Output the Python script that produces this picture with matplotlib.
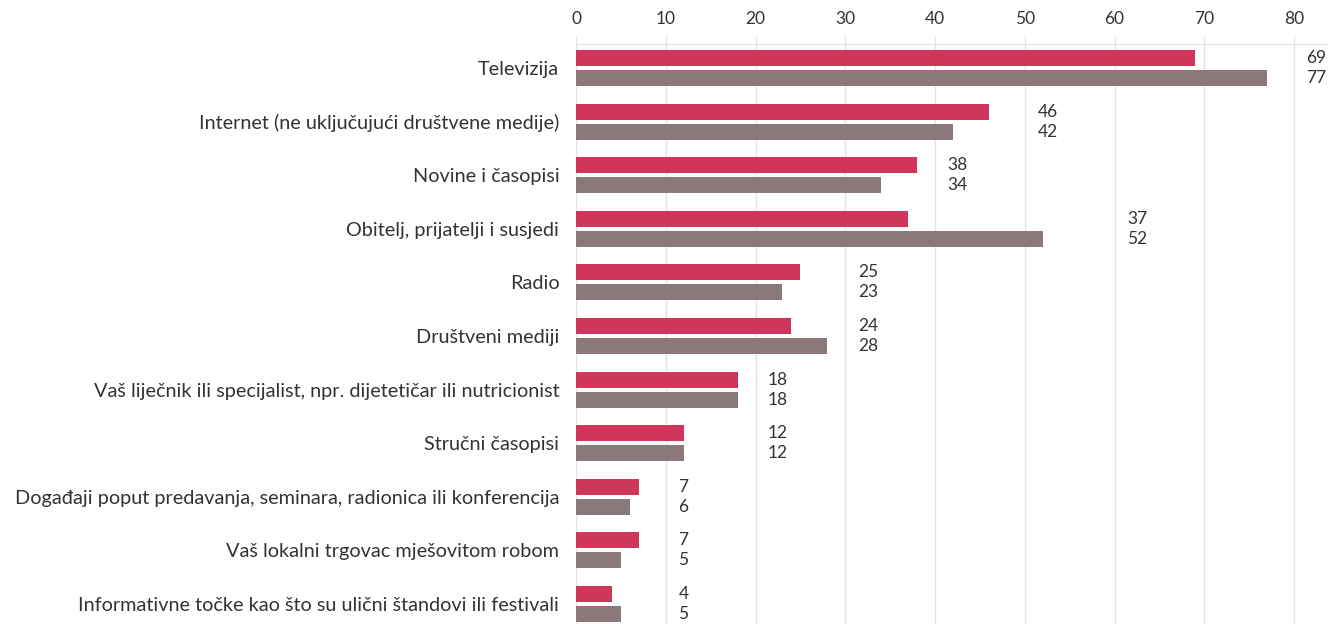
import matplotlib
matplotlib.use("Agg")
import matplotlib.pyplot as plt
import numpy as np
import math

categories = [
    "Televizija",
    "Internet (ne uključujući društvene medije)",
    "Novine i časopisi",
    "Obitelj, prijatelji i susjedi",
    "Radio",
    "Društveni mediji",
    "Vaš liječnik ili specijalist, npr. dijetetičar ili nutricionist",
    "Stručni časopisi",
    "Događaji poput predavanja, seminara, radionica ili konferencija",
    "Vaš lokalni trgovac mješovitom robom",
    "Informativne točke kao što su ulični štandovi ili festivali",
]
series_a = [69, 46, 38, 37, 25, 24, 18, 12, 7, 7, 4]
series_b = [77, 42, 34, 52, 23, 28, 18, 12, 6, 5, 5]
xticks = [0, 10, 20, 30, 40, 50, 60, 70, 80]

color_a = "#d0355a"
color_b = "#8a787b"
text_color = "#333333"
grid_color = "#e3e3e3"

plt.rcParams['font.family'] = ['Lato', 'DejaVu Sans']

fig = plt.figure(figsize=(13.28, 6.24), dpi=100)
ax = fig.add_axes([576/1328, 0, 1 - 576/1328, 1 - 44/624])

y = np.arange(len(categories))
h = 0.30
off = 0.187
ax.barh(y - off, series_a, height=h, color=color_a, zorder=3)
ax.barh(y + off, series_b, height=h, color=color_b, zorder=3)

for i, (a, b) in enumerate(zip(series_a, series_b)):
    xpos = math.ceil(max(a, b) / 10) * 10 + 1.4
    ax.text(xpos, i - off, str(a), va="center", ha="left", fontsize=12.5, color=text_color)
    ax.text(xpos, i + off, str(b), va="center", ha="left", fontsize=12.5, color=text_color)

ax.set_xlim(0, 752 / 8.975)
ax.set_ylim(len(categories) - 1 + 20/53.6, -24/53.6)
ax.set_yticks(y)
ax.set_yticklabels(categories, fontsize=14.3, color=text_color)
ax.set_xticks(xticks)
ax.xaxis.tick_top()
ax.tick_params(axis="x", length=6, color=grid_color, labelsize=12.5, labelcolor=text_color, pad=6)
ax.tick_params(axis="y", length=0, pad=12)
ax.grid(axis="x", color=grid_color, linewidth=1, zorder=0)
for s in ["right", "bottom"]:
    ax.spines[s].set_visible(False)
ax.spines["top"].set_color(grid_color)
ax.spines["left"].set_color(grid_color)

fig.savefig("out.png", dpi=100)
